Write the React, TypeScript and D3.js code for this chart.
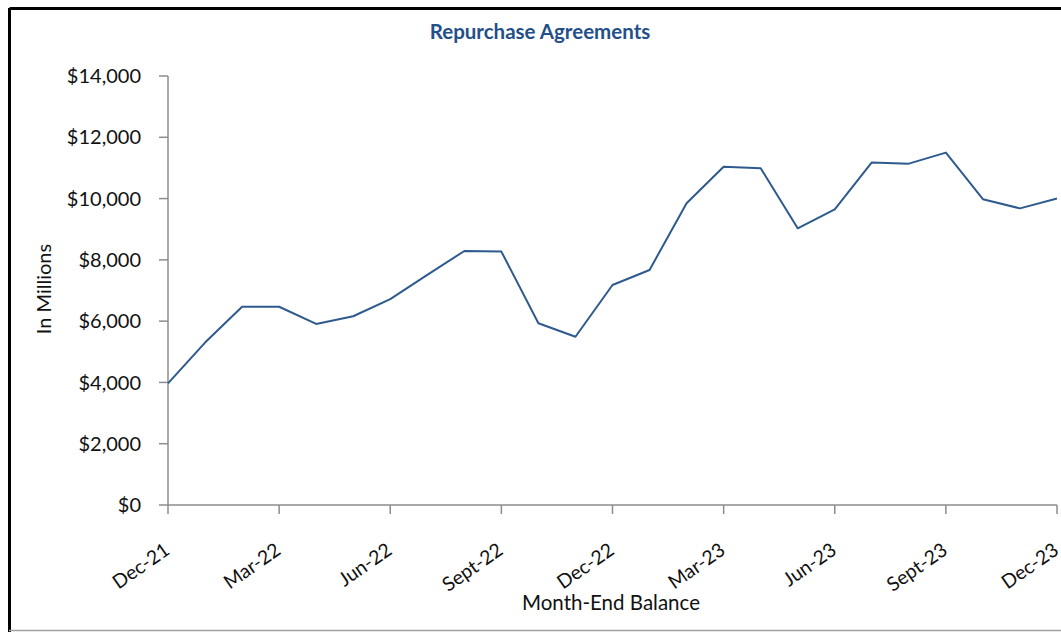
import React from "react";
import * as d3 from "d3";

const months = [
  "Dec-21","Jan-22","Feb-22","Mar-22","Apr-22","May-22","Jun-22","Jul-22","Aug-22","Sept-22","Oct-22","Nov-22",
  "Dec-22","Jan-23","Feb-23","Mar-23","Apr-23","May-23","Jun-23","Jul-23","Aug-23","Sept-23","Oct-23","Nov-23","Dec-23",
];
const values = [
  3970, 5300, 6470, 6470, 5910, 6160, 6720, 7510, 8290, 8270, 5930, 5490,
  7180, 7670, 9850, 11040, 10990, 9030, 9650, 11180, 11140, 11500, 9980, 9680, 10000,
];
const yTicks = [0, 2000, 4000, 6000, 8000, 10000, 12000, 14000];
const tickLabelIdx = [0, 3, 6, 9, 12, 15, 18, 21, 24];

const FONT = "Lato, 'Open Sans', sans-serif";

export default function App() {
  const W = 1061, H = 632;
  const x = d3.scaleLinear().domain([0, months.length - 1]).range([168, 1057]);
  const y = d3.scaleLinear().domain([0, 14000]).range([505, 76]);
  const line = d3.line<number>().x((_, i) => x(i)).y((d) => y(d));
  const fmt = (v: number) => "$" + d3.format(",")(v);
  const axisColor = "#8c8c8c";
  return (
    <svg width={W} height={H} style={{ position: "absolute", left: 0, top: 0 }} fontFamily={FONT}>
      <rect x={0} y={0} width={W} height={H} fill="#fff" />
      {/* frame */}
      <line x1={9.5} y1={8.5} x2={W} y2={8.5} stroke="#000" strokeWidth={3} />
      <line x1={9.5} y1={8} x2={9.5} y2={H} stroke="#000" strokeWidth={3} />
      <line x1={9} y1={630.5} x2={W} y2={630.5} stroke="#a0a0a0" strokeWidth={1.5} />
      {/* title */}
      <text x={540} y={39} textAnchor="middle" fontWeight="bold" fontSize={20.5} fill="#24508a">
        Repurchase Agreements
      </text>
      {/* y axis */}
      <line x1={168} y1={y(14000)} x2={168} y2={y(0)} stroke={axisColor} strokeWidth={1.5} />
      {yTicks.map((t) => (
        <g key={t}>
          <line x1={159} x2={168} y1={y(t)} y2={y(t)} stroke={axisColor} strokeWidth={1.5} />
          <text x={141} y={y(t)} dy="0.36em" textAnchor="end" fontSize={20} fill="#111">
            {fmt(t)}
          </text>
        </g>
      ))}
      {/* x axis */}
      <line x1={x(0)} y1={505} x2={x(24)} y2={505} stroke={axisColor} strokeWidth={1.5} />
      {tickLabelIdx.map((i) => (
        <g key={i}>
          <line x1={x(i)} x2={x(i)} y1={505} y2={514} stroke={axisColor} strokeWidth={1.5} />
          <text
            transform={`translate(${Math.min(x(i) + 3, 1060)},${553}) rotate(-35)`}
            textAnchor="end"
            fontSize={19.5}
            fill="#111"
          >
            {months[i]}
          </text>
        </g>
      ))}
      {/* axis titles */}
      <text x={611} y={610} textAnchor="middle" fontSize={20.5} fill="#111">
        Month-End Balance
      </text>
      <text transform="translate(51,289) rotate(-90)" textAnchor="middle" fontSize={20} fill="#111">
        In Millions
      </text>
      {/* series */}
      <path d={line(values) || ""} fill="none" stroke="#2e5a8e" strokeWidth={2} strokeLinejoin="round" />
    </svg>
  );
}
